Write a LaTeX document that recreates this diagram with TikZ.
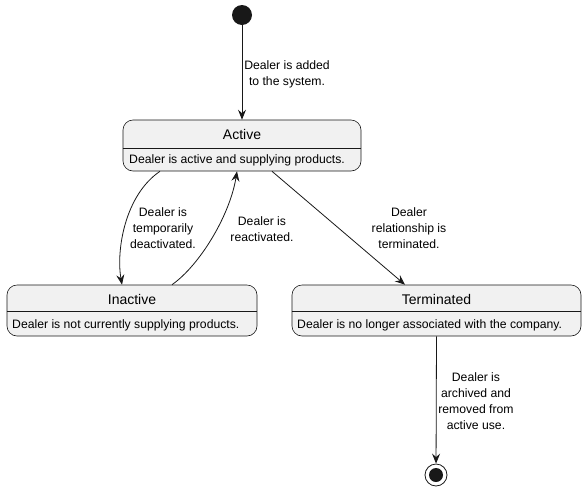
\documentclass[tikz,border=0pt]{standalone}
\usepackage{fontspec}
\setmainfont{Liberation Sans}
\usetikzlibrary{arrows.meta}

\definecolor{statefill}{HTML}{F1F1F1}
\definecolor{lineclr}{HTML}{181818}

\tikzset{
  state/.style={draw=lineclr, fill=statefill, rounded corners=10pt, line width=0.6pt, inner sep=0pt},
  title/.style={font=\fontsize{14}{16}\selectfont, inner sep=0pt},
  desc/.style={font=\fontsize{12.2}{14}\selectfont, inner sep=0pt, anchor=west},
  lbl/.style={font=\fontsize{12.2}{16}\selectfont, align=center, inner sep=0pt},
  trans/.style={draw=lineclr, line width=0.8pt, -{Stealth[length=10pt,width=8pt,inset=3.5pt]}}
}

\begin{document}
\begin{tikzpicture}[x=1pt,y=-1pt]
\useasboundingbox (0,0) rectangle (587,491);
% start and end points
\node[circle, fill=lineclr, minimum size=20pt, inner sep=0pt] (init) at (242,15) {};
\node[circle, draw=lineclr, line width=0.8pt, minimum size=22pt, inner sep=0pt] (final) at (436,475) {};
\fill[lineclr] (final.center) circle (7pt);
% the three states
\node[state, minimum width=238pt, minimum height=51pt] (active) at (242,145.5) {};
\draw[lineclr, line width=0.6pt] (active.west |- 0,148) -- (active.east |- 0,148);
\node[title] (activeT) at (242,134) {Active};
\node[desc] (activeD) at (129,160) {Dealer is active and supplying products.};

\node[state, minimum width=250pt, minimum height=51pt] (inactive) at (132,310.5) {};
\draw[lineclr, line width=0.6pt] (inactive.west |- 0,311) -- (inactive.east |- 0,311);
\node[title] (inactiveT) at (132,299) {Inactive};
\node[desc] (inactiveD) at (12,325) {Dealer is not currently supplying products.};

\node[state, minimum width=289pt, minimum height=51pt] (terminated) at (436.5,310.5) {};
\draw[lineclr, line width=0.6pt] (terminated.west |- 0,311) -- (terminated.east |- 0,311);
\node[title] (terminatedT) at (436.5,299) {Terminated};
\node[desc] (terminatedD) at (297,325) {Dealer is no longer associated with the company.};
% transitions
\draw[trans] (init) -- (active.north);
\draw[trans] ([xshift=-82pt]active.south) .. controls (125,195) and (116,250) .. ([xshift=-10pt]inactive.north);
\draw[trans] ([xshift=40pt]inactive.north) .. controls (200,265) and (230,215) .. ([xshift=-5pt]active.south);
\draw[trans] ([xshift=30pt]active.south) -- ([xshift=-31.5pt]terminated.north);
\draw[trans] (terminated.south) -- (final);
% transition labels
\node[lbl] (addedL) at (287,74) {Dealer is added\\to the system.};
\node[lbl] (deactL) at (163,228) {Dealer is\\temporarily\\deactivated.};
\node[lbl] (reactL) at (262,229.5) {Dealer is\\reactivated.};
\node[lbl] (termL) at (409,228) {Dealer\\relationship is\\terminated.};
\node[lbl] (archL) at (476,401) {Dealer is\\archived and\\removed from\\active use.};
\end{tikzpicture}
\end{document}
